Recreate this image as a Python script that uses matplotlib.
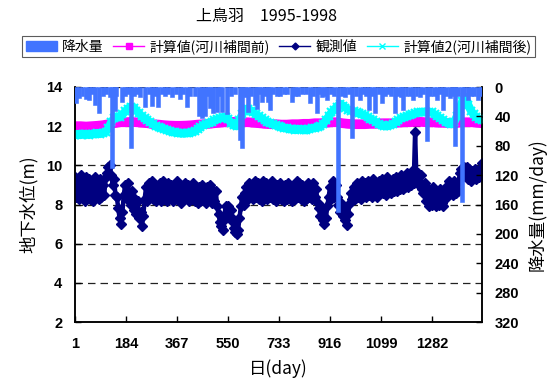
import numpy as np
import matplotlib
matplotlib.use("Agg")
import matplotlib.pyplot as plt
from matplotlib.lines import Line2D
from matplotlib.patches import Patch

CJK = ['Noto Sans CJK JP', 'DejaVu Sans']
NUM = 'Liberation Sans'

title = "上鳥羽\u30001995-1998"
xlabel = "日(day)"
ylabel_left = "地下水位(m)"
ylabel_right = "降水量(mm/day)"
legend_labels = ["降水量", "計算値(河川補間前)", "観測値", "計算値2(河川補間後)"]

xticks = [1, 184, 367, 550, 733, 916, 1099, 1282]
yticks_left = [2, 4, 6, 8, 10, 12, 14]
yticks_right = [0, 40, 80, 120, 160, 200, 240, 280, 320]

# observed groundwater level, every 5 days (day 1 .. 1461)
obs_days = np.arange(1, 1462, 5)
obs_vals = [
    9.4, 8.4, 9.3, 8.3, 9.5, 8.5, 9.2, 8.2, 9.4, 8.6,
    9.3, 8.3, 9.1, 8.2, 9.4, 8.4, 9.2, 8.3, 9.3, 8.4,
    9.0, 8.5, 9.4, 9.6, 9.9, 10.0, 9.5, 9.0, 9.3, 8.5,
    8.4, 7.8, 7.3, 7.0, 7.6, 8.5, 9.0, 8.4, 9.1, 8.2,
    8.0, 8.7, 7.7, 8.3, 7.5, 8.2, 7.3, 7.6, 6.9, 7.4,
    8.3, 8.9, 8.2, 9.1, 8.4, 9.2, 8.3, 9.0, 8.2, 8.9,
    8.3, 9.1, 8.2, 9.2, 8.3, 9.0, 8.2, 9.1, 8.4, 9.0,
    8.2, 8.9, 8.3, 9.2, 8.4, 9.0, 8.1, 8.8, 8.3, 9.1,
    8.4, 9.0, 8.2, 8.9, 8.3, 9.1, 8.2, 8.8, 8.1, 8.9,
    8.2, 9.0, 8.3, 8.8, 8.1, 8.9, 8.3, 9.0, 8.1, 8.7,
    8.2, 8.7, 7.9, 7.5, 7.1, 6.9, 6.7, 7.2, 7.9, 7.5,
    7.9, 7.4, 7.7, 7.1, 6.8, 6.6, 6.5, 6.7, 7.3, 7.9,
    8.4, 8.0, 8.6, 8.9, 8.3, 9.1, 8.4, 9.0, 8.3, 9.2,
    8.4, 9.1, 8.3, 9.0, 8.2, 9.2, 8.4, 9.1, 8.3, 9.0,
    8.4, 9.2, 8.3, 8.9, 8.2, 9.0, 8.4, 9.1, 8.3, 8.9,
    8.2, 9.0, 8.3, 9.1, 8.4, 8.9, 8.2, 9.0, 8.3, 9.2,
    8.4, 9.1, 8.3, 9.0, 8.2, 8.9, 8.3, 9.1, 8.4, 9.0,
    8.3, 9.1, 8.4, 8.8, 8.1, 7.8, 7.4, 7.8, 7.2, 7.0,
    7.3, 7.9, 8.4, 8.9, 8.3, 9.2, 8.4, 9.0, 8.4, 8.0,
    7.6, 8.1, 7.4, 7.8, 7.2, 6.95, 7.5, 8.1, 8.6, 8.3,
    8.9, 8.3, 9.1, 8.4, 9.0, 8.3, 9.2, 8.5, 9.1, 8.4,
    9.2, 8.5, 9.0, 8.4, 9.3, 8.6, 9.1, 8.4, 9.2, 8.6,
    9.3, 8.6, 9.2, 8.5, 9.4, 8.7, 9.2, 8.6, 9.3, 8.7,
    9.4, 8.7, 9.3, 8.8, 9.5, 8.8, 9.4, 8.9, 9.6, 8.9,
    9.5, 9.0, 9.7, 9.1, 11.7, 9.2, 9.6, 9.0, 9.5, 8.8,
    8.6, 9.1, 8.2, 8.8, 7.9, 8.5, 8.0, 8.9, 8.2, 7.9,
    8.6, 8.0, 8.8, 8.1, 7.9, 8.5, 8.9, 8.4, 9.2, 8.6,
    9.1, 8.5, 9.2, 8.6, 9.1, 8.7, 9.6, 9.8, 9.4, 9.9,
    9.5, 9.9, 9.3, 9.8, 9.2, 9.7, 9.4, 9.8, 9.3, 9.7,
    9.4, 9.8, 10.1,
]

# calculated level 2 (after river interpolation), every 10 days
calc2_days = np.arange(1, 1462, 10)
calc2_vals = [
    11.55, 11.6, 11.55, 11.6, 11.6, 11.55, 11.6, 11.6, 11.65, 11.6, 11.65, 11.7,
    11.9, 12.2, 12.4, 12.5, 12.45, 12.6, 12.75, 12.9, 13.0, 12.95,
    12.8, 12.65, 12.5, 12.4, 12.3, 12.2, 12.1, 12.0, 11.95, 11.9,
    11.85, 11.8, 11.75, 11.7, 11.68, 11.65, 11.63, 11.63, 11.65, 11.65,
    11.7, 11.75, 11.85, 11.95, 12.05, 12.1, 12.15, 12.2, 12.3, 12.35,
    12.4, 12.45, 12.48, 12.35, 12.15, 12.05, 12.0, 12.3, 12.6, 12.85,
    12.9, 12.8, 12.7, 12.6, 12.5, 12.4, 12.3, 12.2, 12.15, 12.1,
    12.05, 12.0, 11.95, 11.9, 11.9, 11.85, 11.85, 11.8, 11.85, 11.85,
    11.8, 11.8, 11.85, 11.9, 11.9, 11.95, 12.0, 12.1, 12.3, 12.5,
    12.7, 12.85, 13.0, 13.15, 13.05, 12.95, 12.85, 12.8, 12.75, 12.7,
    12.65, 12.6, 12.55, 12.45, 12.35, 12.3, 12.2, 12.1, 12.05, 12.0,
    12.0, 12.05, 12.1, 12.2, 12.3, 12.4, 12.45, 12.5, 12.55, 12.6,
    12.65, 12.7, 12.7, 12.72, 12.74, 12.74, 12.7, 12.6, 12.5, 12.4,
    12.3, 12.2, 12.15, 12.1, 12.2, 12.5, 12.9, 13.3, 13.5, 13.1,
    12.8, 12.6, 12.45, 12.35, 12.3,
]

# calculated level (before river interpolation), every 20 days
calc1_days = np.arange(1, 1462, 20)
calc1_vals = [
    12.0, 12.0, 11.98, 12.0, 12.02, 12.05, 12.1, 12.15, 12.2, 12.2,
    12.22, 12.2, 12.18, 12.15, 12.1, 12.08, 12.05, 12.03, 12.02, 12.02,
    12.03, 12.05, 12.08, 12.1, 12.12, 12.15, 12.18, 12.2, 12.22, 12.22,
    12.2, 12.2, 12.18, 12.15, 12.12, 12.1, 12.1, 12.08, 12.08, 12.1,
    12.1, 12.12, 12.12, 12.15, 12.15, 12.18, 12.2, 12.2, 12.15, 12.12,
    12.1, 12.1, 12.1, 12.12, 12.12, 12.15, 12.15, 12.15, 12.18, 12.2,
    12.2, 12.22, 12.22, 12.2, 12.2, 12.18, 12.18, 12.15, 12.15, 12.18,
    12.2, 12.2, 12.18, 12.15,
]

# daily rainfall events (mm/day)
rain_days = [
    5, 15, 28, 40, 51, 62, 73, 87, 100, 112, 127, 134, 145, 150, 168, 180, 190,
    202, 212, 223, 235, 252, 265, 277, 288, 299, 312, 325, 336, 348, 362, 377,
    390, 402, 415, 432, 445, 457, 467, 478, 485, 496, 510, 520, 528, 546, 560,
    575, 592, 600, 612, 621, 633, 646, 653, 662, 671, 683, 693, 700, 712, 725,
    736, 750, 762, 779, 790, 800, 815, 830, 844, 856, 869, 878, 887, 895, 905,
    918, 930, 946, 958, 970, 983, 995, 1008, 1023, 1035, 1046, 1056, 1066,
    1077, 1090, 1102, 1113, 1124, 1136, 1149, 1160, 1170, 1178, 1190, 1202,
    1214, 1226, 1239, 1250, 1264, 1275, 1288, 1300, 1310, 1321, 1333, 1346,
    1356, 1364, 1375, 1389, 1398, 1411, 1420, 1432, 1447, 1456,
]
rain_mm = [
    22, 15, 12, 17, 18, 10, 24, 36, 12, 10, 14, 110, 32, 12, 20, 12, 10,
    83, 12, 10, 14, 27, 10, 26, 12, 27, 10, 12, 9, 13, 10, 17,
    9, 27, 12, 12, 40, 42, 40, 12, 29, 36, 34, 12, 34, 37, 12,
    10, 72, 83, 14, 34, 12, 25, 30, 10, 20, 12, 20, 31, 10, 12,
    12, 10, 10, 20, 12, 12, 10, 10, 22, 12, 36, 10, 13, 12, 18,
    10, 12, 170, 12, 14, 10, 70, 12, 18, 10, 12, 31, 12,
    35, 10, 22, 12, 10, 12, 35, 12, 14, 31, 12, 12,
    18, 12, 13, 10, 74, 12, 12, 18, 10, 31, 12, 15,
    12, 81, 12, 157, 12, 18, 12, 12, 18, 12,
]

c_rain = '#4174FF'
c_calc1 = '#FF00FF'
c_obs = '#000080'
c_calc2 = '#00FFFF'

fig = plt.figure(figsize=(5.55, 3.85), dpi=100)
ax = fig.add_axes([75 / 555, 1 - 322 / 385, 407 / 555, 235 / 385])
ax2 = ax.twinx()

# gridlines
for y in yticks_left[1:]:
    ax.axhline(y, color='#222222', lw=0.9, ls=(0, (6, 4)), zorder=0)

ax.plot(calc1_days, calc1_vals, color=c_calc1, lw=7, marker='s', ms=5,
        mec=c_calc1, mfc=c_calc1, zorder=2)
ax.plot(obs_days, obs_vals, color=c_obs, lw=3.2, marker='D', ms=5.5,
        mec=c_obs, mfc=c_obs, zorder=3)
ax.plot(calc2_days, calc2_vals, color=c_calc2, lw=6, marker='x', ms=6,
        mew=1.5, mec=c_calc2, zorder=4)

ax2.bar(rain_days, rain_mm, width=14, bottom=0, color=c_rain,
        edgecolor=c_rain, lw=0.4, zorder=5)

ax.set_xlim(1, 1461)
ax.set_ylim(2, 14)
ax2.set_ylim(320, 0)

ax.set_xticks(xticks)
ax.set_xticklabels([str(t) for t in xticks])
ax.set_yticks(yticks_left)
ax2.set_yticks(yticks_right)

for a in (ax, ax2):
    a.spines['top'].set_visible(False)
    for s in a.spines.values():
        s.set_linewidth(1.1)
ax.tick_params(axis='both', direction='in', length=4, width=1)
ax.tick_params(axis='x', pad=11)
ax.tick_params(axis='y', pad=9)
ax2.tick_params(axis='y', direction='in', length=4, width=1, pad=9)

for lab in ax.get_xticklabels() + ax.get_yticklabels() + ax2.get_yticklabels():
    lab.set_fontfamily(NUM)
    lab.set_fontweight('bold')
    lab.set_fontsize(10.5)

ax.set_xlabel(xlabel, family=CJK, fontsize=12.5, labelpad=6)
ax.set_ylabel(ylabel_left, family=CJK, fontsize=12.5, labelpad=6)
ax2.set_ylabel(ylabel_right, family=CJK, fontsize=12.5, labelpad=6)

fig.text(267 / 555, 1 - 16 / 385, title, family=CJK, fontsize=11.5,
         ha='center', va='center')

handles = [
    Patch(facecolor=c_rain, edgecolor=c_rain),
    Line2D([], [], color=c_calc1, marker='s', ms=4.5, lw=1),
    Line2D([], [], color=c_obs, marker='D', ms=3.5, lw=1),
    Line2D([], [], color=c_calc2, marker='x', ms=4, lw=1),
]
leg = fig.legend(handles, legend_labels, loc='center',
                 bbox_to_anchor=(278.5 / 555, 1 - 46.5 / 385), ncol=4,
                 frameon=True, fancybox=False, edgecolor='#333333',
                 prop={'family': CJK, 'size': 10}, handlelength=2.2,
                 handletextpad=0.4, columnspacing=0.7, borderpad=0.25)
leg.get_frame().set_linewidth(0.8)

fig.savefig('out.png', dpi=100)
